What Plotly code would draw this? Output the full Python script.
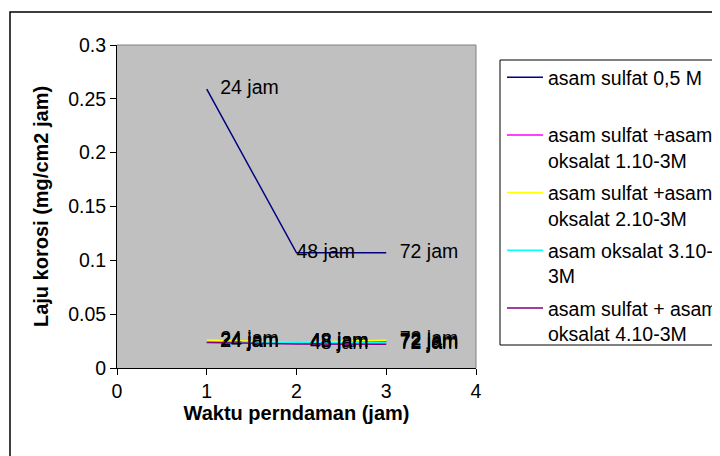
import plotly.graph_objects as go

x_jam = [1, 2, 3]
point_labels = ["24 jam", "48 jam", "72 jam"]

series_names = [
    "asam sulfat 0,5 M<br>\u00a0",
    "asam sulfat +asam<br>oksalat 1.10-3M",
    "asam sulfat +asam<br>oksalat 2.10-3M",
    "asam oksalat 3.10-<br>3M",
    "asam sulfat + asam<br>oksalat 4.10-3M",
]
s_sulfat = [0.259, 0.107, 0.107]
s_ok1 = [0.024, 0.0238, 0.0244]
s_ok2 = [0.026, 0.024, 0.0257]
s_ok3 = [0.0242, 0.0239, 0.0235]
s_ok4 = [0.0238, 0.0223, 0.022]
series_values = [s_sulfat, s_ok1, s_ok2, s_ok3, s_ok4]
colors = ["#000080", "#FF00FF", "#FFFF00", "#00FFFF", "#800080"]

y_ticks = [0, 0.05, 0.1, 0.15, 0.2, 0.25, 0.3]
y_ticklabels = ["0", "0.05", "0.1", "0.15", "0.2", "0.25", "0.3"]
x_ticks = [0, 1, 2, 3, 4]

FONT = "Liberation Sans, Arial, sans-serif"
FS = 19.5

# browser body margin is 8px: work in screen coordinates and shift
OFF = 8
W, H = 720 - OFF, 456 - OFF
L, R, T, B = 117 - OFF, 476 - OFF, 45 - OFF, 368 - OFF
pw, ph = R - L, B - T


def px(sx):
    return (sx - OFF - L) / pw


def py(sy):
    return 1 - (sy - OFF - T) / ph


fig = go.Figure()
for i, (name, vals, col) in enumerate(zip(series_names, series_values, colors)):
    msize = [20, 0, 20] if i == 0 else 20
    fig.add_trace(go.Scatter(
        x=x_jam, y=vals, name=name, mode="lines+markers+text",
        line=dict(color=col, width=1.5),
        marker=dict(size=msize, color="rgba(0,0,0,0)", line=dict(width=0)),
        text=point_labels, textposition="middle right",
        textfont=dict(family=FONT, size=FS, color="black"),
        legendgroup=f"g{i}",
    ))

fig.update_layout(
    width=W, height=H,
    margin=dict(l=L, r=W - R, t=T, b=H - B, pad=0, autoexpand=False),
    paper_bgcolor="white",
    plot_bgcolor="#C0C0C0",
    font=dict(family=FONT, size=FS, color="black"),
    showlegend=True,
    legend=dict(
        x=px(502), y=py(58), xanchor="left", yanchor="top",
        borderwidth=0, bgcolor="rgba(0,0,0,0)",
        font=dict(family=FONT, size=FS, color="black"),
        tracegroupgap=4, valign="top", itemwidth=36,
    ),
    xaxis=dict(
        range=[0, 4], tickvals=x_ticks, ticks="outside", ticklen=6,
        tickcolor="black", showline=True, linecolor="black", linewidth=1,
        showgrid=False, zeroline=False, mirror=False,
        title=dict(text="<b>Waktu perndaman (jam)</b>", font=dict(size=20), standoff=4),
        tickfont=dict(size=FS),
    ),
    yaxis=dict(
        range=[0, 0.3], tickvals=y_ticks, ticktext=y_ticklabels, ticks="outside",
        ticklen=6, tickcolor="black", showline=True, linecolor="black", linewidth=1,
        showgrid=False, zeroline=False,
        title=dict(text="<b>Laju korosi (mg/cm2 jam)</b>", font=dict(size=20), standoff=14),
        tickfont=dict(size=FS),
    ),
    shapes=[
        dict(type="line", xref="paper", yref="paper", x0=0, x1=1, y0=1, y1=1,
             line=dict(color="#808080", width=1)),
        dict(type="line", xref="paper", yref="paper", x0=1, x1=1, y0=0, y1=1,
             line=dict(color="#808080", width=1)),
        # legend frame
        dict(type="rect", xref="paper", yref="paper",
             x0=px(500), x1=px(740), y0=py(345), y1=py(60),
             line=dict(color="black", width=1), layer="below"),
        # outer chart border
        dict(type="rect", xref="paper", yref="paper",
             x0=px(10), x1=px(740), y0=py(470), y1=py(12),
             line=dict(color="black", width=1.5), layer="below"),
    ],
)

fig.write_html("out.html")
